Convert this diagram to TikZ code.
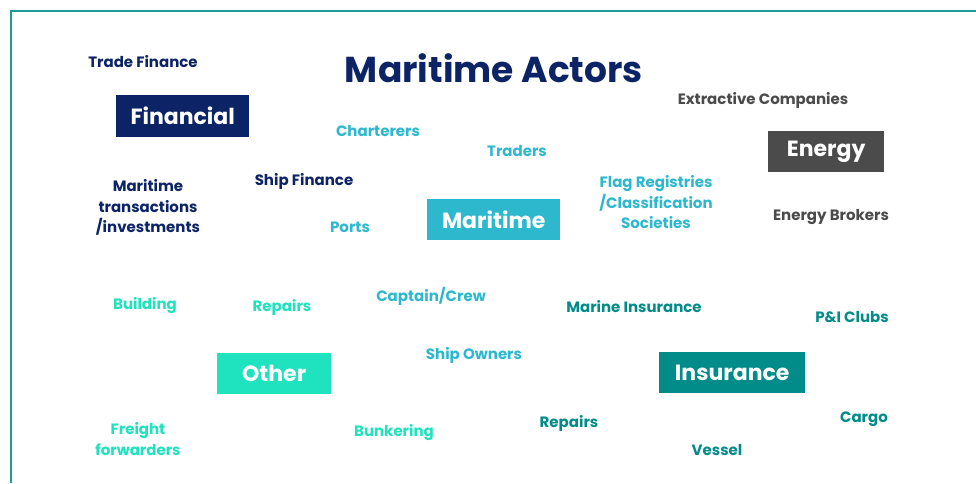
\documentclass[tikz,border=0pt]{standalone}
\usepackage{fontspec}
\setmainfont{Poppins}
\definecolor{navy}{HTML}{0C2366}
\definecolor{lblue}{HTML}{2DB8CE}
\definecolor{mint}{HTML}{1EE3BE}
\definecolor{tealc}{HTML}{018C89}
\definecolor{grayc}{HTML}{4B4B4B}
\definecolor{framec}{HTML}{1E9A94}
\begin{document}
\begin{tikzpicture}[x=1pt,y=-1pt,
  lbl/.style={font=\bfseries\fontsize{15}{20.5}\selectfont, align=center, inner sep=0pt, yshift=-1.5pt},
  cat/.style={font=\bfseries\fontsize{22}{26}\selectfont, text=white, inner sep=0pt, anchor=north west},
]
\useasboundingbox (0,0) rectangle (976,483);
\fill[white] (0,0) rectangle (976,483);
\draw[draw=framec, line width=2pt] (11,483) -- (11,11) -- (976,11);

\node[font=\bfseries\fontsize{36}{40}\selectfont, text=navy, inner sep=0pt] (title) at (494,68) {Maritime Actors};

% category boxes
\node[cat, fill=navy, minimum width=133pt, minimum height=42pt] (fin) at (116,95) {Financial};
\node[cat, fill=grayc, minimum width=116pt, minimum height=41pt] (ene) at (768,131) {Energy};
\node[cat, fill=lblue, minimum width=133pt, minimum height=41pt] (mar) at (427,199) {Maritime};
\node[cat, fill=mint, minimum width=114pt, minimum height=41pt] (oth) at (217,353) {Other};
\node[cat, fill=tealc, minimum width=146pt, minimum height=41pt] (ins) at (659,352) {Insurance};

% financial
\node[lbl, text=navy] (tf) at (143,60) {Trade Finance};
\node[lbl, text=navy] (mti) at (148,206) {Maritime\\transactions\\/investments};
\node[lbl, text=navy] (sf) at (304,180) {Ship Finance};

% energy
\node[lbl, text=grayc] (ec) at (763,99) {Extractive Companies};
\node[lbl, text=grayc] (eb) at (831,216) {Energy Brokers};

% maritime
\node[lbl, text=lblue] (ch) at (378,130) {Charterers};
\node[lbl, text=lblue] (tr) at (517,150) {Traders};
\node[lbl, text=lblue] (po) at (350,226) {Ports};
\node[lbl, text=lblue] (fr) at (656,201) {Flag Registries\\/Classification\\Societies};
\node[lbl, text=lblue] (cc) at (431,295) {Captain/Crew};
\node[lbl, text=lblue] (so) at (474,354) {Ship Owners};

% other
\node[lbl, text=mint] (bu) at (145,304) {Building};
\node[lbl, text=mint] (re1) at (282,306) {Repairs};
\node[lbl, text=mint] (ff) at (138,437.5) {Freight\\forwarders};
\node[lbl, text=mint] (bk) at (394,431) {Bunkering};

% insurance
\node[lbl, text=tealc] (mi) at (634,305) {Marine Insurance};
\node[lbl, text=tealc] (pi) at (852,316) {P\&I Clubs};
\node[lbl, text=tealc] (re2) at (569,422) {Repairs};
\node[lbl, text=tealc] (ca) at (864,418) {Cargo};
\node[lbl, text=tealc] (ve) at (717,448) {Vessel};
\end{tikzpicture}
\end{document}
